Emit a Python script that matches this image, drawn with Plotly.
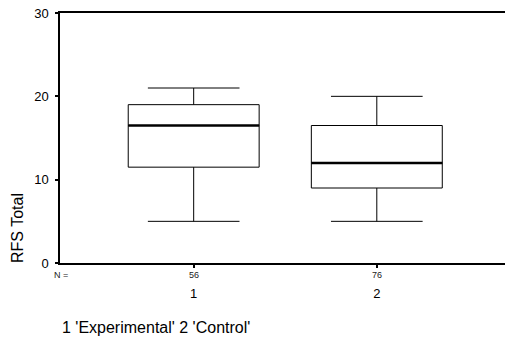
import plotly.graph_objects as go

# Box-plot summary statistics for RFS Total by group
groups = [1, 2]
group_labels = ["1", "2"]
counts = [56, 76]
lower_whisker = [5, 5]
q1 = [11.5, 9]
median = [16.5, 12]
q3 = [19, 16.5]
upper_whisker = [21, 20]

box_width = 0.715
font = "Liberation Sans, Arial, sans-serif"

fig = go.Figure()

for i, g in enumerate(groups):
    fig.add_trace(go.Box(
        x=[g], q1=[q1[i]], median=[median[i]], q3=[q3[i]],
        lowerfence=[lower_whisker[i]], upperfence=[upper_whisker[i]],
        width=box_width, whiskerwidth=0.7,
        fillcolor="white", line=dict(color="black", width=1),
        boxpoints=False, showlegend=False, hoverinfo="skip",
    ))
    # heavy median line
    fig.add_trace(go.Scatter(
        x=[g - box_width / 2, g + box_width / 2], y=[median[i], median[i]],
        mode="lines", line=dict(color="black", width=2.6),
        showlegend=False, hoverinfo="skip",
    ))
    # group size under each tick
    fig.add_annotation(x=g, y=0, xref="x", yref="y", text=str(counts[i]),
                       showarrow=False, yanchor="top", yshift=-5,
                       font=dict(size=9, color="#222", family=font))

fig.add_annotation(x=0, y=0, xref="paper", yref="y", text="N =",
                   showarrow=False, xanchor="left", yanchor="top",
                   xshift=-8, yshift=-5,
                   font=dict(size=9, color="#222", family=font))

fig.add_annotation(x=0, y=0.14, xref="paper", yref="paper", text="RFS Total",
                   textangle=-90, showarrow=False, xanchor="center",
                   yanchor="middle", xshift=-43,
                   font=dict(size=16, color="black", family=font))

fig.add_annotation(x=0, y=0, xref="paper", yref="paper",
                   text="1 'Experimental' 2 'Control'",
                   showarrow=False, xanchor="left", yanchor="middle",
                   yshift=-64, font=dict(size=16, color="black", family=font))

fig.update_layout(
    width=505, height=349,
    margin=dict(l=60, r=0, t=13, b=86),
    paper_bgcolor="white", plot_bgcolor="white",
    font=dict(family=font, color="black", size=13),
    xaxis=dict(
        range=[0.27, 2.7], tickvals=groups, ticktext=group_labels,
        showline=True, linecolor="black", linewidth=1.5, mirror=True,
        ticks="outside", ticklen=3, tickwidth=2, tickcolor="black",
        showgrid=False, zeroline=False, tickfont=dict(size=13),
        ticklabelstandoff=15,
    ),
    yaxis=dict(
        range=[0, 30], tickvals=[0, 10, 20, 30],
        showline=True, linecolor="black", linewidth=1.5,
        ticks="outside", ticklen=3, tickwidth=2, tickcolor="black",
        showgrid=False, zeroline=False, tickfont=dict(size=13),
        ticklabelstandoff=4,
    ),
)

fig.write_html("out.html")
